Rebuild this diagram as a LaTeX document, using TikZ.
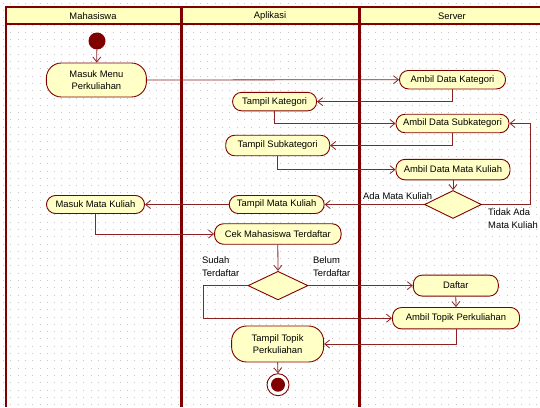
\documentclass[tikz,border=0pt]{standalone}
\usepackage{fontspec}
\setmainfont{Liberation Sans}
\usetikzlibrary{arrows.meta,shapes.geometric}
\definecolor{dred}{HTML}{800000}
\definecolor{lred}{HTML}{8B2323}
\definecolor{nfill}{HTML}{FFFFC6}
\definecolor{hfill}{HTML}{FFFFC0}
\definecolor{gdot}{HTML}{C8C8C8}
\tikzset{
  act/.style={draw=dred, line width=0.9pt, fill=nfill, rounded corners=9pt,
    minimum height=19pt, inner sep=1pt, font=\fontsize{9.4}{11.8}\selectfont, align=center},
  act2/.style={act, rounded corners=15pt},
  dec/.style={diamond, draw=dred, line width=0.9pt, fill=nfill, inner sep=0pt},
  flow/.style={draw=lred, line width=0.8pt, -{Straight Barb[length=5pt,width=8pt,line width=0.8pt]}},
  lbl/.style={font=\fontsize{9.4}{13.5}\selectfont, align=left, inner sep=0pt},
  hdr/.style={font=\fontsize{9.4}{10}\selectfont, inner sep=0pt},
  lane/.style={draw=dred, line width=3pt}
}
\begin{document}
\begin{tikzpicture}[x=1pt,y=-1pt]
\useasboundingbox (0,0) rectangle (540,407);
\fill[white] (0,0) rectangle (540,407);
% dotted grid
\foreach \r in {0,...,55} {
  \draw[gdot, line width=0.9pt, dash pattern=on 0.9pt off 6.4pt, dash phase=-3pt]
    (0,{3.1+7.3*\r}) -- (540,{3.1+7.3*\r});
}
% header
\fill[hfill] (6,7) rectangle (540,24);
\draw[dred, line width=1.6pt] (6,7) -- (540,7);
\draw[dred, line width=1.6pt] (6,24) -- (540,24);
\draw[dred, line width=2pt] (6.2,6.2) -- (6.2,407);
\draw[lane] (181,6.2) -- (181,407);
\draw[lane] (359,6.2) -- (359,407);
\node[hdr] (h1) at (93,16) {Mahasiswa};
\node[hdr] (h2) at (270,16) {Aplikasi};
\node[hdr] (h3) at (452,16) {Server};

% nodes
\node[circle, fill=dred, minimum size=17pt, inner sep=0pt] (init) at (97,41) {};
\node[act2, minimum width=100pt, minimum height=34pt] (masukMenu) at (96.4,80) {Masuk Menu\\Perkuliahan};
\node[act, minimum width=106pt, minimum height=18.5pt] (ambilKat) at (452.5,79.7) {Ambil Data Kategori};
\node[act, minimum width=84pt, minimum height=18.5pt] (tampilKat) at (274.6,101.6) {Tampil Kategori};
\node[act, minimum width=113pt, minimum height=18.5pt] (ambilSub) at (452.5,123.5) {Ambil Data Subkategori};
\node[act, minimum width=104pt, minimum height=20.5pt] (tampilSub) at (277.7,145.5) {Tampil Subkategori};
\node[act, minimum width=114pt, minimum height=20.5pt] (ambilMK) at (453,169.6) {Ambil Data Mata Kuliah};
\node[dec, minimum width=57pt, minimum height=28pt] (dec1) at (453,204.5) {};
\node[act, minimum width=95pt, minimum height=18pt] (tampilMK) at (276.7,204.5) {Tampil Mata Kuliah};
\node[act, minimum width=98pt, minimum height=18pt] (masukMK) at (95.5,204.5) {Masuk Mata Kuliah};
\node[act, minimum width=126.5pt, minimum height=20.5pt] (cek) at (277.8,234) {Cek Mahasiswa Terdaftar};
\node[dec, minimum width=60pt, minimum height=28.6pt] (dec2) at (278,285.6) {};
\node[act, minimum width=85pt, minimum height=21pt] (daftar) at (455.8,285.6) {Daftar};
\node[act, minimum width=127pt, minimum height=21.4pt] (ambilTopik) at (456,318.2) {Ambil Topik Perkuliahan};
\node[act2, minimum width=92pt, minimum height=36pt] (tampilTopik) at (277.6,344) {Tampil Topik\\Perkuliahan};
\node[circle, draw=dred, line width=0.9pt, fill=white, minimum size=22pt, inner sep=0pt] (final) at (278,384.7) {};
\fill[dred] (final.center) circle (7pt);

% labels
\node[lbl, anchor=west] (lAda) at (363,196.5) {Ada Mata Kuliah};
\node[lbl, anchor=north west] (lTidak) at (488,208) {Tidak Ada\\Mata Kuliah};
\node[lbl, anchor=north west] (lSudah) at (202,256) {Sudah\\Terdaftar};
\node[lbl, anchor=north west] (lBelum) at (313,256) {Belum\\Terdaftar};

% connectors
\coordinate (loopc) at (530,123.5);
\coordinate (sudahc) at (203.2,318.2);
\draw[flow] (init) -- (masukMenu);
\draw[flow] (masukMenu.east) -- (ambilKat.west);
\draw[flow] (ambilKat.south) |- (tampilKat.east);
\draw[flow] (tampilKat.south) |- (ambilSub.west);
\draw[flow] (ambilSub.south) |- (tampilSub.east);
\draw[flow] (tampilSub.south) |- (ambilMK.west);
\draw[flow] (ambilMK.south) -- (dec1.north);
\draw[flow] (dec1.west) -- (tampilMK.east);
\draw[flow] (dec1.east) -| (loopc) -- (ambilSub.east);
\draw[flow] (tampilMK.west) -- (masukMK.east);
\draw[flow] (masukMK.south) |- (cek.west);
\draw[flow] (cek.south) -- (dec2.north);
\draw[flow] (dec2.east) -- (daftar.west);
\draw[flow] (dec2.west) -| (sudahc) -- (ambilTopik.west);
\draw[flow] (daftar.south) -- (ambilTopik.north);
\draw[flow] (ambilTopik.south) |- (tampilTopik.east);
\draw[flow] (tampilTopik.south) -- (final.north);
\end{tikzpicture}
\end{document}
